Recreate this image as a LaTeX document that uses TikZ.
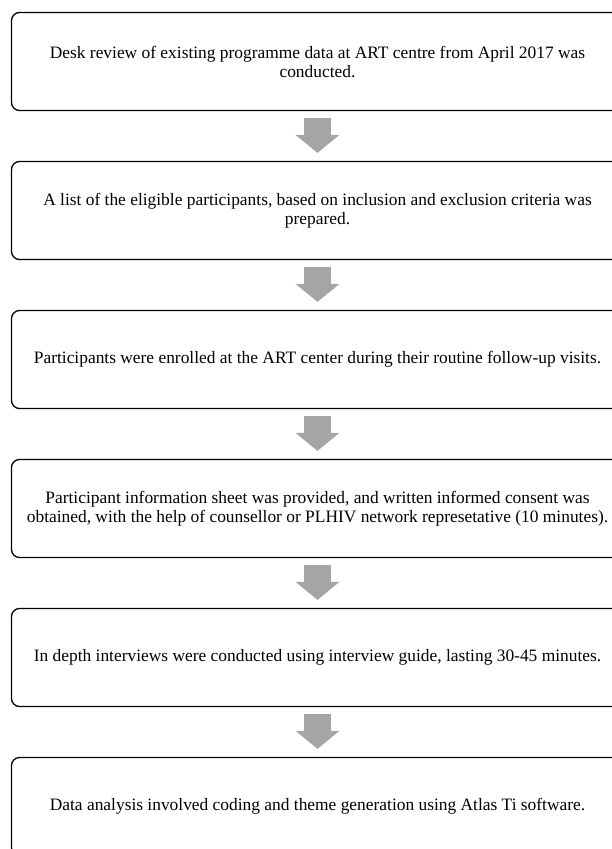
\documentclass[tikz,border=0pt]{standalone}
\usepackage{fontspec}
\setmainfont{Liberation Serif}
\usetikzlibrary{arrows.meta, positioning}
\definecolor{arrowgray}{RGB}{165,165,165}

\begin{document}
\begin{tikzpicture}[
    x=1pt, y=1pt,
    stage/.style={rectangle, draw, rounded corners=8pt, line width=1.3pt, minimum width=612pt, minimum height=98pt, align=center, inner sep=0pt, font=\fontsize{17.4}{19}\selectfont},
    flow/.style={arrowgray, line width=27pt, -{Triangle[width=44pt, length=18pt, line width=0pt]}, shorten <=7pt, shorten >=8pt},
]

\useasboundingbox (0,0) rectangle (612,-849);
\clip (0,0) rectangle (612,-849);

% Stages of the study
\node (DeskReview) at (317.5, -61.5) [stage] {Desk review of existing programme data at ART centre from April 2017 was \\ conducted.};
\node (ListPrep) at (317.5, -210.5) [stage] {A list of the eligible participants, based on inclusion and exclusion criteria was \\ prepared.};
\node (Enrolment) at (317.5, -359.5) [stage] {Participants were enrolled at the ART center during their routine follow-up visits.};
\node (Consent) at (317.5, -508.5) [stage] {Participant information sheet was provided, and written informed consent was \\ obtained, with the help of counsellor or PLHIV network represetative (10 minutes).};
\node (Interview) at (317.5, -657.5) [stage] {In depth interviews were conducted using interview guide, lasting 30-45 minutes.};
\node (Analysis) at (317.5, -806.5) [stage] {Data analysis involved coding and theme generation using Atlas Ti software.};

% Block arrows between stages
\draw[flow] (DeskReview) -- (ListPrep);
\draw[flow] (ListPrep) -- (Enrolment);
\draw[flow] (Enrolment) -- (Consent);
\draw[flow] (Consent) -- (Interview);
\draw[flow] (Interview) -- (Analysis);

\end{tikzpicture}
\end{document}
